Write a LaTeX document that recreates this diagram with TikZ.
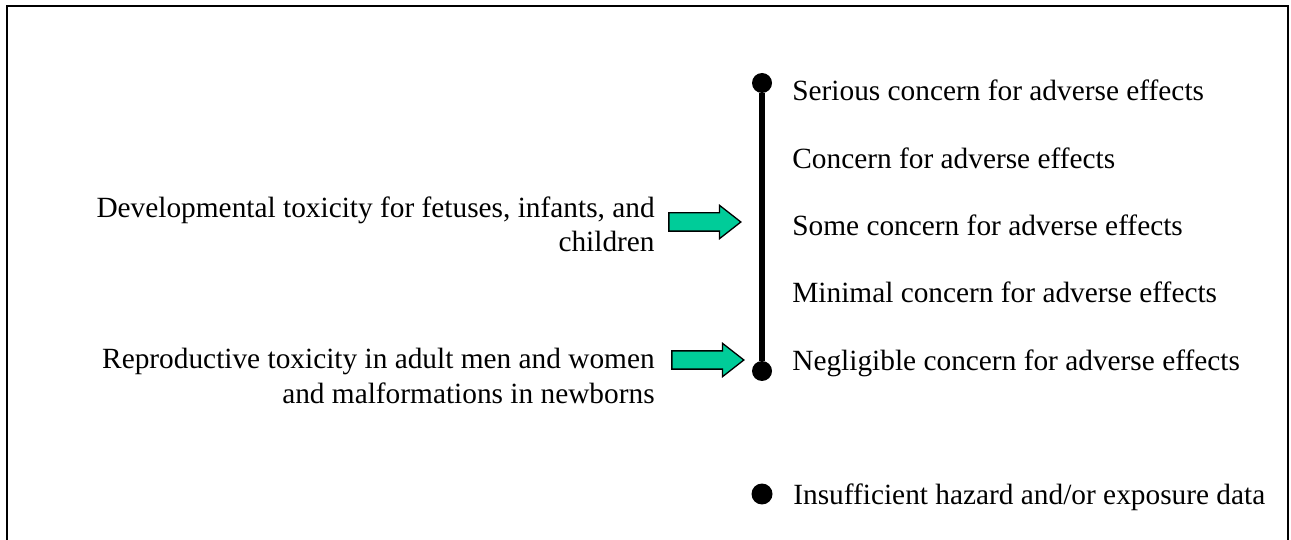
\documentclass[tikz,border=0pt]{standalone}
\usepackage{fontspec}
\setmainfont{Liberation Serif}
\usetikzlibrary{shapes.arrows}
\definecolor{arrowgreen}{RGB}{0,204,153}
\begin{document}
\begin{tikzpicture}[
    x=0.02cm, y=-0.02cm,
    level/.style={anchor=base west, inner sep=0pt, font=\fontsize{16.7pt}{19.9pt}\selectfont},
    effect/.style={anchor=base east, inner sep=0pt, align=right, font=\fontsize{16.7pt}{19.9pt}\selectfont},
    dot/.style={circle, fill=black, inner sep=0pt, minimum size=0.4cm},
    fatarrow/.style={single arrow, draw=black, fill=arrowgreen, line width=0.026cm, inner sep=0.17cm, single arrow head extend=0.15cm, single arrow tip angle=76, minimum height=1.44cm}
]
\useasboundingbox (0,0) rectangle (1291,540);
% cadre
\draw[line width=0.04cm] (7,560) -- (7,6) -- (1288,6) -- (1288,560);

% echelle
\node[dot] (top) at (762,83) {};
\node[dot] (bottom) at (762,371) {};
\draw[line width=0.13cm] (top) -- (bottom);
\foreach \y/\name/\txt in {101/serious/Serious concern for adverse effects, 169/concern/Concern for adverse effects, 236/some/Some concern for adverse effects, 303/minimal/Minimal concern for adverse effects, 371/negligible/Negligible concern for adverse effects} {
    \node[level] (\name) at (792,\y) {\txt};
}
\node[dot, minimum size=0.42cm] (nodata) at (762,494) {};
\node[level] (insufficient) at (793,504) {Insufficient hazard and/or exposure data};

% effets
\node[effect] (dev) at (655,252) {Developmental toxicity for fetuses, infants, and\\children};
\node[effect] (rep) at (655,403) {Reproductive toxicity in adult men and women\\and malformations in newborns};
\node[fatarrow] (devarrow) at (699,222) {};
\node[fatarrow] (reparrow) at (702,360) {};
\end{tikzpicture}
\end{document}
